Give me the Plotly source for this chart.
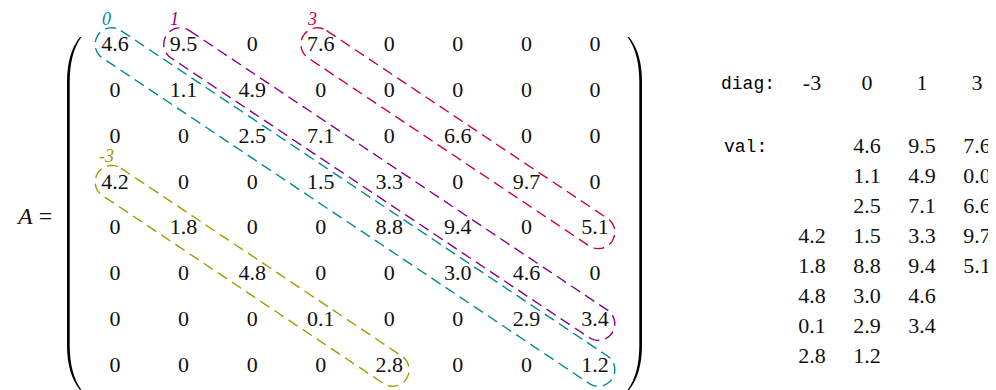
import numpy as np
import plotly.graph_objects as go

# the sparse 8x8 matrix A, row by row
matrix = [
    [4.6, 9.5, 0, 7.6, 0, 0, 0, 0],
    [0, 1.1, 4.9, 0, 0, 0, 0, 0],
    [0, 0, 2.5, 7.1, 0, 6.6, 0, 0],
    [4.2, 0, 0, 1.5, 3.3, 0, 9.7, 0],
    [0, 1.8, 0, 0, 8.8, 9.4, 0, 5.1],
    [0, 0, 4.8, 0, 0, 3.0, 4.6, 0],
    [0, 0, 0, 0.1, 0, 0, 2.9, 3.4],
    [0, 0, 0, 0, 2.8, 0, 0, 1.2],
]
# stored diagonals (DIA format)
offsets = [-3, 0, 1, 3]
offset_labels = ["-3", "0", "1", "3"]
offset_colors = ["#a39a00", "#008a8a", "#8a008a", "#cc0044"]

n = len(matrix)

# layout helpers (screen pixel space; page body has an 8px margin)
X0, DX = 115, 68.57
Y0, DY = 45.5, 45.86
def cx(j): return X0 + j * DX
def cy(i): return Y0 + i * DY

SERIF = "Liberation Serif"
MONO = "Liberation Mono"

fig = go.Figure()

# matrix entries
xs, ys, txt = [], [], []
for i in range(n):
    for j in range(n):
        v = matrix[i][j]
        xs.append(cx(j)); ys.append(cy(i))
        txt.append("0" if v == 0 else f"{v:.1f}")
fig.add_trace(go.Scatter(x=xs, y=ys, text=txt, mode="text", textposition="middle center",
                         textfont=dict(family=SERIF, size=22, color="#111"), hoverinfo="skip"))

# dashed stadiums around each stored diagonal
W, E = 16.5, 4
shapes = []
annots = []
for k, lab, col in zip(offsets, offset_labels, offset_colors):
    rows = [i for i in range(n) if 0 <= i + k < n]
    i0, i1 = rows[0], rows[-1]
    p0 = np.array([cx(i0 + k), cy(i0) + 1.0])
    p1 = np.array([cx(i1 + k), cy(i1) + 1.0])
    u = (p1 - p0) / np.linalg.norm(p1 - p0)
    nv = np.array([-u[1], u[0]])
    a = p0 - u * E
    b = p1 + u * E
    pts = [a - nv * W]
    for t in np.linspace(-np.pi / 2, np.pi / 2, 19):
        pts.append(b + W * (u * np.cos(t) + nv * np.sin(t)))
    for t in np.linspace(-np.pi / 2, np.pi / 2, 19):
        pts.append(a + W * (-u * np.cos(t) - nv * np.sin(t)))
    path = "M " + " L ".join(f"{p[0]:.2f},{p[1]:.2f}" for p in pts) + " Z"
    shapes.append(dict(type="path", path=path, xref="x", yref="y",
                       line=dict(color=col, width=1.4, dash="11px,6px")))
    annots.append(dict(x=cx(i0 + k) - 9, y=cy(i0) - 27, text=lab, showarrow=False,
                       xref="x", yref="y",
                       font=dict(family=SERIF, size=18, color=col, style="italic")))

# big parentheses
lp = ("M 80,37 Q 67,53 67,82 L 67,345 Q 67,374 80,390 "
      "L 81.5,390 Q 69.7,374 69.7,345 L 69.7,82 Q 69.7,53 81.5,37 Z")
rp = ("M 629,37 Q 642,53 642,82 L 642,345 Q 642,374 629,390 "
      "L 627.5,390 Q 639.3,374 639.3,345 L 639.3,82 Q 639.3,53 627.5,37 Z")
for p in (lp, rp):
    shapes.append(dict(type="path", path=p, xref="x", yref="y",
                       fillcolor="black", line=dict(width=0)))

annots.append(dict(x=34, y=216, text="<i>A</i> =", showarrow=False, xref="x", yref="y",
                   font=dict(family=SERIF, size=24, color="#111")))

# DIA storage table on the right
TX0, TDX = 812, 55
annots.append(dict(x=748, y=84, text="diag:", showarrow=False, xref="x", yref="y",
                   font=dict(family=MONO, size=18, color="#000")))
annots.append(dict(x=745, y=147, text="val:", showarrow=False, xref="x", yref="y",
                   font=dict(family=MONO, size=18, color="#000")))
tx, ty, tt = [], [], []
for c, k in enumerate(offsets):
    tx.append(TX0 + c * TDX); ty.append(84); tt.append(str(k))
    for i in range(n):
        j = i + k
        if 0 <= j < n:
            tx.append(TX0 + c * TDX); ty.append(147 + 30 * i)
            tt.append(f"{matrix[i][j]:.1f}")
fig.add_trace(go.Scatter(x=tx, y=ty, text=tt, mode="text", textposition="middle center",
                         textfont=dict(family=SERIF, size=22, color="#111"), hoverinfo="skip"))

fig.update_layout(width=988, height=382, margin=dict(l=0, r=0, t=0, b=0),
                  xaxis=dict(range=[8, 996], visible=False),
                  yaxis=dict(range=[390, 8], visible=False),
                  plot_bgcolor="white", paper_bgcolor="white", showlegend=False,
                  shapes=shapes, annotations=annots)
fig.write_html("out.html")
